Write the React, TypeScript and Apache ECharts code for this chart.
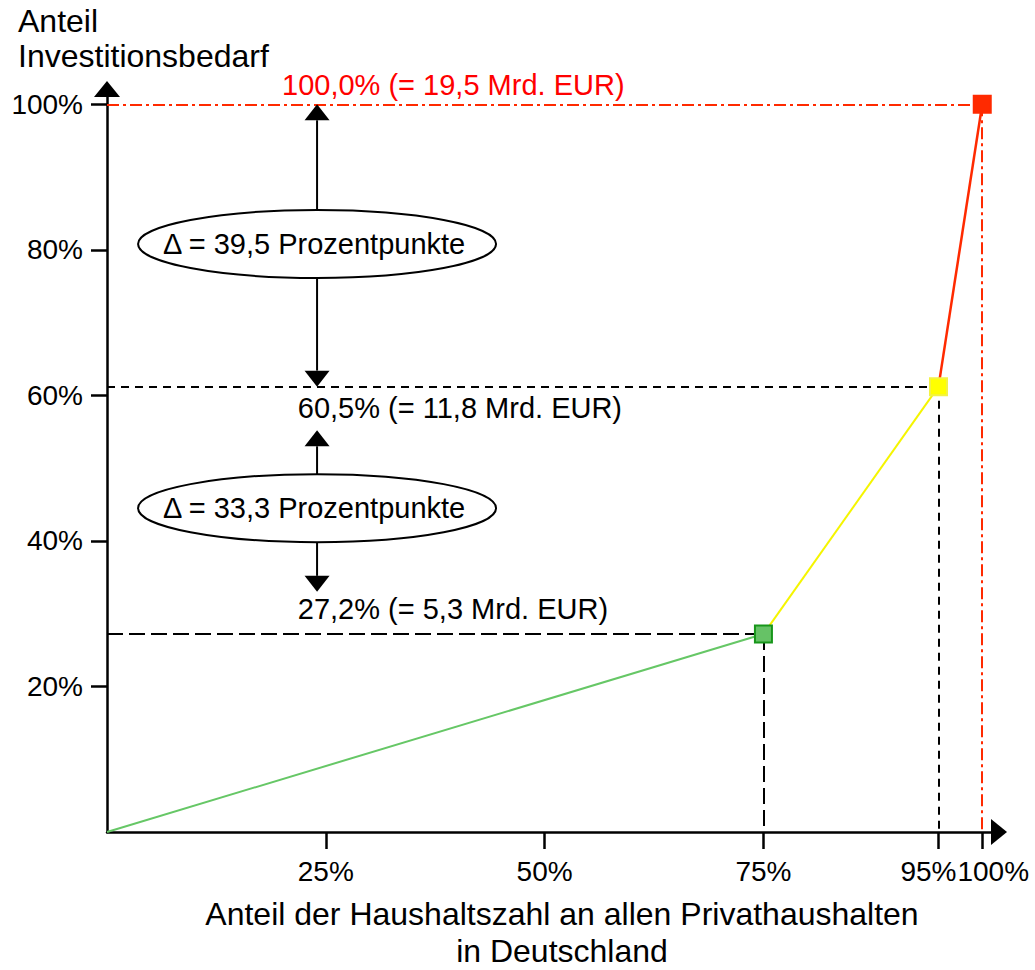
import React, { useEffect, useRef } from "react";
import * as echarts from "echarts";

const FONT = "'Liberation Sans', Arial, Helvetica, sans-serif";

// ---- data ----
const householdShare = [0, 75, 95, 100]; // x, % of households
const investmentShare = [0, 27.2, 61.2, 100]; // y, % of investment need (as drawn)
const segmentColors = ["#66c766", "#f5f500", "#ff2a00"];
const markerFills = ["#66c266", "#ffff00", "#ff2a00"];
const markerBorders = ["#17961a", "#f2f244", "#ff2a00"];
const xTickValues = [25, 50, 75, 95, 100];
const yTickValues = [20, 40, 60, 80, 100];
const valueLabels = [
  "27,2% (= 5,3 Mrd. EUR)",
  "60,5% (= 11,8 Mrd. EUR)",
  "100,0% (= 19,5 Mrd. EUR)",
];
const deltaLabels = ["Δ = 33,3 Prozentpunkte", "Δ = 39,5 Prozentpunkte"];
const xTitle = "Anteil der Haushaltszahl an allen Privathaushalten\nin Deutschland";
const yTitle = "Anteil\nInvestitionsbedarf";

// ---- annotation anchors (data units) ----
const labelAnchors = [
  [21.8, 30.6],
  [21.8, 58.2],
  [20, 102.6],
];
const labelColors = ["#000000", "#000000", "#ff0000"];
const deltaCentersY = [44.5, 80.8];
const arrowX = 24;
const arrowTipsY = [
  [55.2, 33],
  [100, 61.2],
]; // [upper tip, lower tip] per ellipse

export default function App() {
  const ref = useRef<HTMLDivElement>(null);

  useEffect(() => {
    if (!ref.current) return;
    const chart = echarts.init(ref.current, null, { renderer: "svg" });

    const lineSeries = [0, 1, 2].map((i) => ({
      type: "line",
      data: [
        [householdShare[i], investmentShare[i]],
        [householdShare[i + 1], investmentShare[i + 1]],
      ],
      showSymbol: false,
      symbol: "none",
      silent: true,
      z: 3,
      lineStyle: { color: segmentColors[i], width: i === 2 ? 2.5 : 2 },
    }));

    const longDash = { color: "#000", width: 2, type: [16, 6] };
    const shortDash = { color: "#000", width: 2, type: [8, 6] };
    const dashDot = { color: "#ff2a00", width: 2, type: [12, 4, 3, 4] };
    const gx = householdShare;
    const gy = investmentShare;

    const guideSeries = {
      type: "line",
      data: [],
      z: 2,
      markLine: {
        silent: true,
        symbol: ["none", "none"],
        label: { show: false },
        emphasis: { disabled: true },
        data: [
          [{ coord: [0, gy[1]], lineStyle: longDash }, { coord: [gx[1], gy[1]] }],
          [{ coord: [gx[1], gy[1]], lineStyle: longDash }, { coord: [gx[1], 0] }],
          [{ coord: [0, gy[2]], lineStyle: shortDash }, { coord: [gx[2], gy[2]] }],
          [{ coord: [gx[2], gy[2]], lineStyle: shortDash }, { coord: [gx[2], 0] }],
          [{ coord: [0, gy[3]], lineStyle: dashDot }, { coord: [gx[3], gy[3]] }],
          [{ coord: [gx[3], gy[3]], lineStyle: dashDot }, { coord: [gx[3], 0] }],
        ],
      },
    };

    const markerSeries = {
      type: "scatter",
      symbol: "rect",
      symbolSize: 17,
      z: 5,
      silent: true,
      data: householdShare.slice(1).map((x, i) => ({
        value: [x, investmentShare[i + 1]],
        itemStyle: {
          color: markerFills[i],
          borderColor: markerBorders[i],
          borderWidth: 2,
          opacity: 1,
        },
      })),
    };

    const axisCommon = {
      type: "value",
      min: 0,
      max: 101,
      splitLine: { show: false },
      axisLine: {
        show: true,
        onZero: false,
        lineStyle: { color: "#000", width: 2.5 },
        symbol: ["none", "triangle"],
        symbolSize: [26, 16],
        symbolOffset: [0, 8],
      },
    };

    chart.setOption({
      animation: false,
      backgroundColor: "#ffffff",
      grid: {
        left: 107,
        right: 44,
        top: 97,
        bottom: 138,
        containLabel: false,
        outerBoundsMode: "none",
      },
      xAxis: {
        ...axisCommon,
        axisTick: {
          show: true,
          length: 17,
          lineStyle: { color: "#000", width: 2.5 },
          customValues: xTickValues,
        },
        axisLabel: {
          show: true,
          customValues: xTickValues,
          margin: 25,
          color: "#000",
          fontSize: 28,
          fontFamily: FONT,
          hideOverlap: false,
          formatter: (v: number) =>
            v === 95 ? "{l|95%}" : v === 100 ? "{r|100%}" : `${v}%`,
          rich: {
            l: { fontSize: 28, fontFamily: FONT, color: "#000", padding: [0, 20, 0, 0] },
            r: { fontSize: 28, fontFamily: FONT, color: "#000", padding: [0, 0, 0, 22] },
          },
        },
      },
      yAxis: {
        ...axisCommon,
        axisTick: {
          show: true,
          length: 16,
          lineStyle: { color: "#000", width: 2.5 },
          customValues: yTickValues,
        },
        axisLabel: {
          show: true,
          customValues: yTickValues,
          margin: 24,
          color: "#000",
          fontSize: 28,
          fontFamily: FONT,
          formatter: (v: number) => `${v}%`,
        },
      },
      series: [guideSeries, ...lineSeries, markerSeries],
    });

    const p = (x: number, y: number) =>
      chart.convertToPixel({ gridIndex: 0 }, [x, y]) as number[];

    const elements: any[] = [];
    const RX = 179;
    const RY = 34;
    const HEAD_W = 25;
    const HEAD_H = 16;

    // ellipses with delta texts and arrows
    deltaCentersY.forEach((cyData, i) => {
      const [cx, cy] = p(arrowX, cyData);
      elements.push({
        type: "ellipse",
        shape: { cx, cy, rx: RX, ry: RY },
        style: { fill: "none", stroke: "#000", lineWidth: 2 },
        z: 10,
      });
      elements.push({
        type: "text",
        z: 11,
        style: {
          text: deltaLabels[i],
          x: cx - 3,
          y: cy,
          fill: "#000",
          font: `29px ${FONT}`,
          align: "center",
          verticalAlign: "middle",
          textAlign: "center",
          textVerticalAlign: "middle",
        },
      });
      const [upTip, downTip] = arrowTipsY[i];
      const upTipPx = p(arrowX, upTip)[1];
      const downTipPx = p(arrowX, downTip)[1];
      // up arrow
      elements.push({
        type: "line",
        z: 10,
        shape: { x1: cx, y1: cy - RY, x2: cx, y2: upTipPx + HEAD_H },
        style: { stroke: "#000", lineWidth: 2 },
      });
      elements.push({
        type: "polygon",
        z: 10,
        shape: {
          points: [
            [cx - HEAD_W / 2, upTipPx + HEAD_H],
            [cx + HEAD_W / 2, upTipPx + HEAD_H],
            [cx, upTipPx],
          ],
        },
        style: { fill: "#000" },
      });
      // down arrow
      elements.push({
        type: "line",
        z: 10,
        shape: { x1: cx, y1: cy + RY, x2: cx, y2: downTipPx - HEAD_H },
        style: { stroke: "#000", lineWidth: 2 },
      });
      elements.push({
        type: "polygon",
        z: 10,
        shape: {
          points: [
            [cx - HEAD_W / 2, downTipPx - HEAD_H],
            [cx + HEAD_W / 2, downTipPx - HEAD_H],
            [cx, downTipPx],
          ],
        },
        style: { fill: "#000" },
      });
    });

    // value labels
    labelAnchors.forEach(([lx, ly], i) => {
      const [x, y] = p(lx, ly);
      elements.push({
        type: "text",
        z: 11,
        style: {
          text: valueLabels[i],
          x,
          y,
          fill: labelColors[i],
          font: `29px ${FONT}`,
          align: "left",
          verticalAlign: "middle",
          textAlign: "left",
          textVerticalAlign: "middle",
        },
      });
    });

    // axis titles
    elements.push({
      type: "text",
      z: 11,
      style: {
        text: yTitle,
        x: 18,
        y: 3,
        fill: "#000",
        font: `32px ${FONT}`,
        lineHeight: 35,
        align: "left",
        verticalAlign: "top",
        textAlign: "left",
        textVerticalAlign: "top",
      },
    });
    elements.push({
      type: "text",
      z: 11,
      style: {
        text: xTitle,
        x: 562,
        y: 895,
        fill: "#000",
        font: `32px ${FONT}`,
        lineHeight: 37,
        align: "center",
        verticalAlign: "top",
        textAlign: "center",
        textVerticalAlign: "top",
      },
    });

    chart.setOption({ graphic: { elements } });

    return () => chart.dispose();
  }, []);

  return (
    <div
      ref={ref}
      style={{ position: "fixed", left: 0, top: 0, width: 1035, height: 970, background: "#fff" }}
    />
  );
}
